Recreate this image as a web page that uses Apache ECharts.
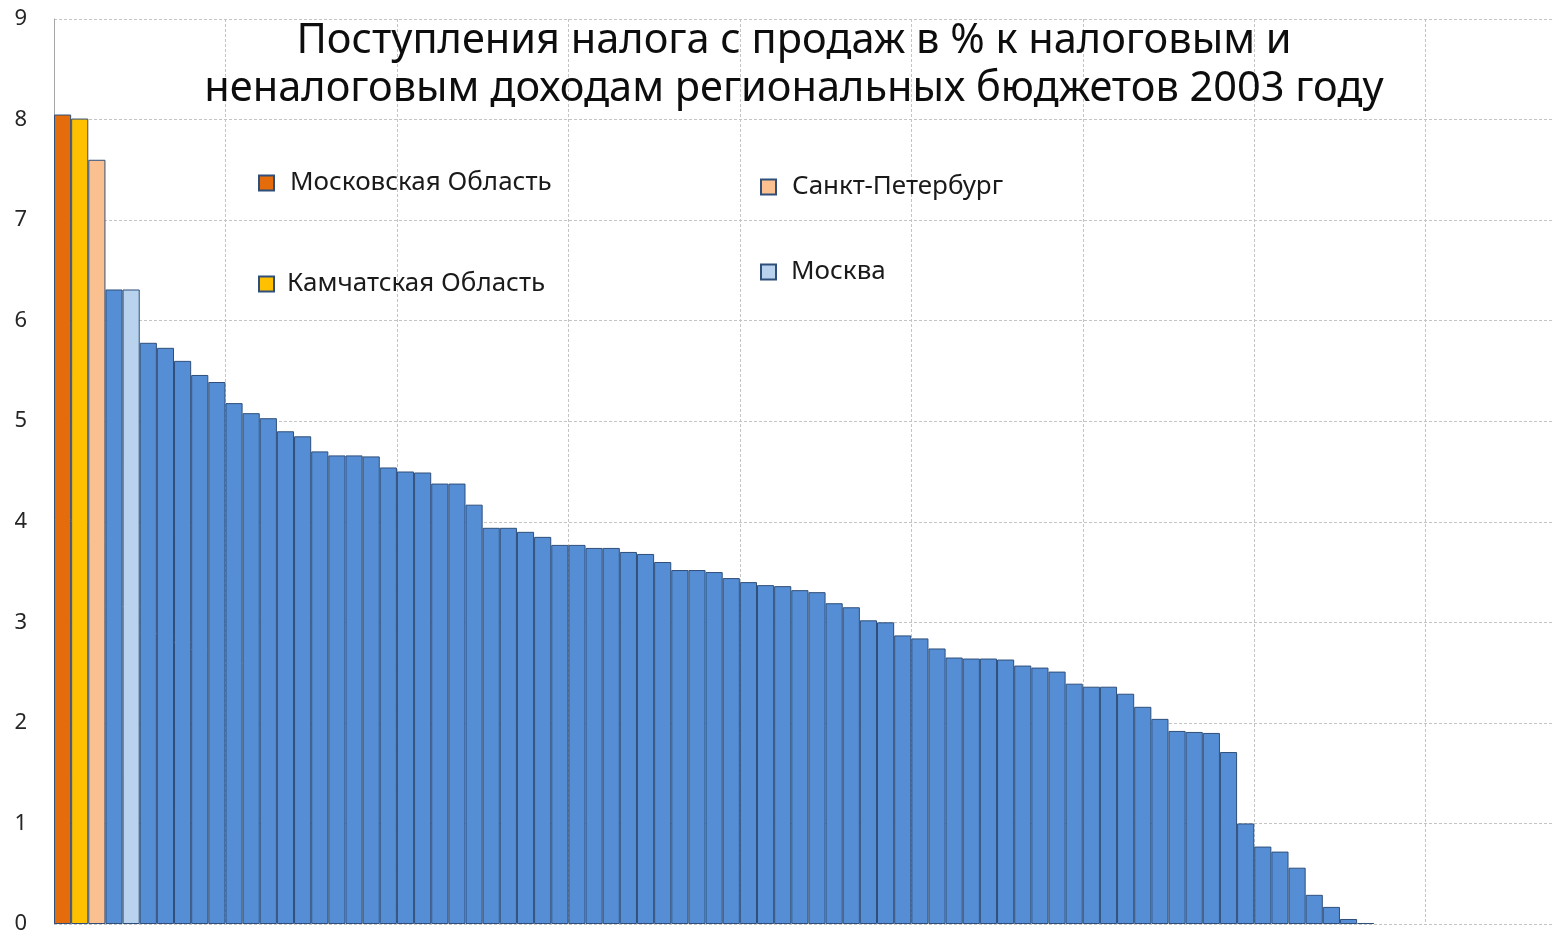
<!DOCTYPE html>
<html>
<head>
<meta charset="utf-8">
<script src="https://cdn.jsdelivr.net/npm/echarts@6/dist/echarts.min.js"></script>
<style>
  html, body { margin: 0; padding: 0; background: #fff; overflow: hidden; }
  #main { width: 1580px; height: 935px; }
</style>
</head>
<body>
<div id="main"></div>
<script>
// доля налога с продаж, % (регионы по убыванию)
const values = [
  8.05, 8.01, 7.60, 6.31, 6.31, 5.78, 5.73, 5.60, 5.46, 5.39,
  5.18, 5.08, 5.03, 4.90, 4.85, 4.70, 4.66, 4.66, 4.65, 4.54,
  4.50, 4.49, 4.38, 4.38, 4.17, 3.94, 3.94, 3.90, 3.85, 3.77,
  3.77, 3.74, 3.74, 3.70, 3.68, 3.60, 3.52, 3.52, 3.50, 3.44,
  3.40, 3.37, 3.36, 3.32, 3.30, 3.19, 3.15, 3.02, 3.00, 2.87,
  2.84, 2.74, 2.65, 2.64, 2.64, 2.63, 2.57, 2.55, 2.51, 2.39,
  2.36, 2.36, 2.29, 2.16, 2.04, 1.92, 1.91, 1.90, 1.71, 1.00,
  0.77, 0.72, 0.56, 0.29, 0.17, 0.05, 0.01
];
const regionCount = 89;
const categories = Array.from({ length: regionCount }, (_, i) => String(i + 1));

// выделенные регионы: имя -> позиция в ряду
const highlightNames = ['Московская Область', 'Камчатская Область', 'Санкт-Петербург', 'Москва'];
const highlightIndex = [0, 1, 2, 4];
const otherName = 'Прочие регионы';

const colors = {
  'Московская Область': '#E46C0A',
  'Камчатская Область': '#FFC000',
  'Санкт-Петербург': '#FAC090',
  'Москва': '#B9D3EE',
  'Прочие регионы': '#558ED5'
};

const ownerOf = i => {
  const k = highlightIndex.indexOf(i);
  return k >= 0 ? highlightNames[k] : otherName;
};

const seriesNames = highlightNames.concat([otherName]);
const series = seriesNames.map(name => ({
  name: name,
  type: 'bar',
  stack: 'all',
  barWidth: '100%',
  barCategoryGap: 0,
  itemStyle: { color: colors[name], borderColor: '#2F4F7A', borderWidth: 1 },
  emphasis: { disabled: true },
  data: categories.map((c, i) => (i < values.length && ownerOf(i) === name) ? values[i] : '-')
}));

const legendPos = [
  { left: 258, top: 170, pad: 11 },
  { left: 258, top: 271, pad: 8 },
  { left: 760, top: 174, pad: 11 },
  { left: 760, top: 259, pad: 10 }
];
const legends = highlightNames.map((name, k) => ({
  data: [name],
  left: legendPos[k].left,
  top: legendPos[k].top,
  padding: 0,
  icon: 'rect',
  itemWidth: 15,
  itemHeight: 15,
  selectedMode: false,
  textStyle: { fontFamily: 'Noto Sans', fontSize: 26, color: '#1a1a1a', padding: [0, 0, 0, legendPos[k].pad] }
}));

const chart = echarts.init(document.getElementById('main'));
chart.setOption({
  animation: false,
  title: {
    text: 'Поступления налога с продаж в % к налоговым и\nненалоговым доходам региональных бюджетов 2003 году',
    left: 789,
    top: 12,
    textAlign: 'center',
    textStyle: { fontFamily: 'Noto Sans', fontSize: 41.5, fontWeight: 'normal', color: '#0d0d0d', lineHeight: 48 }
  },
  legend: legends,
  grid: { left: 54, right: 0, top: 19, bottom: 10 },
  xAxis: {
    type: 'category',
    data: categories,
    boundaryGap: true,
    axisLine: { show: false },
    axisTick: { show: false },
    axisLabel: { show: false },
    splitLine: { show: true, interval: 9, lineStyle: { color: '#c4c4c4', type: [3, 2], width: 1 } }
  },
  yAxis: {
    type: 'value',
    min: 0,
    max: 9,
    interval: 1,
    axisLine: { show: true, lineStyle: { color: '#a6a6a6', width: 1 } },
    axisTick: { show: false },
    axisLabel: { fontFamily: 'Noto Sans', fontSize: 22, color: '#262626', margin: 27 },
    splitLine: { lineStyle: { color: '#c4c4c4', type: [3, 2], width: 1 } }
  },
  series: series
});
window.onresize = function () { chart.resize(); };
</script>
</body>
</html>
